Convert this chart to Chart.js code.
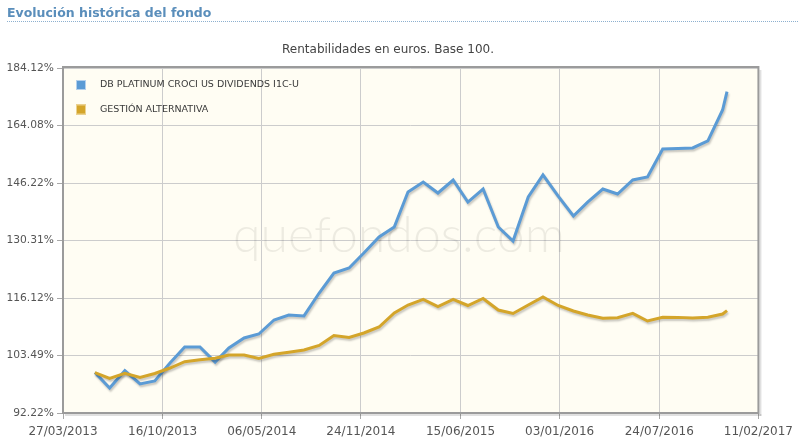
<!DOCTYPE html>
<html><head><meta charset="utf-8">
<script src="https://cdn.jsdelivr.net/npm/chart.js@4"></script>
<style>
html,body{margin:0;padding:0;background:#fff;}
#wrap{position:relative;width:799px;height:445px;overflow:hidden;}
canvas{display:block;}
</style></head><body>
<div id="wrap"><canvas id="cv" width="799" height="445"></canvas></div>
<script>
const HEADER = 'Evolución histórica del fondo';
const TITLE = 'Rentabilidades en euros. Base 100.';
const WATERMARK = 'quefondos.com';
const SERIES_NAMES = ['DB PLATINUM CROCI US DIVIDENDS I1C-U', 'GESTIÓN ALTERNATIVA'];
const X_LABELS = ['27/03/2013','16/10/2013','06/05/2014','24/11/2014','15/06/2015','03/01/2016','24/07/2016','11/02/2017'];
const Y_TICKS = [92.22, 103.49, 116.12, 130.31, 146.22, 164.08, 184.12];
const DATES = [
 '31/05/2013','30/06/2013','31/07/2013','31/08/2013','30/09/2013','31/10/2013','30/11/2013','31/12/2013',
 '31/01/2014','28/02/2014','31/03/2014','30/04/2014','31/05/2014','30/06/2014','31/07/2014','31/08/2014','30/09/2014','31/10/2014','30/11/2014','31/12/2014',
 '31/01/2015','28/02/2015','31/03/2015','30/04/2015','31/05/2015','30/06/2015','31/07/2015','31/08/2015','30/09/2015','31/10/2015','30/11/2015','31/12/2015',
 '31/01/2016','29/02/2016','31/03/2016','30/04/2016','31/05/2016','30/06/2016','31/07/2016','31/08/2016','30/09/2016','31/10/2016','30/11/2016','09/12/2016'
];
const FUND = [100.00, 96.96, 100.38, 97.74, 98.33, 101.94, 105.26, 105.26, 102.14, 105.05, 107.18, 108.04, 111.12, 112.24, 112.02, 117.29, 122.09, 123.32, 127.08, 131.22, 133.88, 143.60, 146.51, 143.32, 147.10, 140.74, 144.47, 133.88, 130.17, 142.17, 148.59, 142.40, 136.87, 140.74, 144.47, 143.03, 147.10, 147.99, 156.55, 156.70, 156.86, 159.07, 169.26, 175.60];
const CATEGORY = [100.00, 98.86, 99.86, 99.02, 99.82, 100.92, 102.21, 102.62, 102.90, 103.59, 103.59, 102.86, 103.73, 104.15, 104.63, 105.58, 107.71, 107.28, 108.26, 109.57, 112.68, 114.50, 115.82, 114.16, 115.82, 114.39, 116.01, 113.36, 112.57, 114.50, 116.36, 114.39, 113.14, 112.24, 111.50, 111.64, 112.61, 110.90, 111.73, 111.70, 111.56, 111.73, 112.45, 113.21];
const COLORS = ['#5b9bd5', '#d4a52a'];
const LEGEND_BORDER = ['#b4d0ec', '#ecd28f'];

function dayOf(s){ const [d,m,y]=s.split('/').map(Number); return Date.UTC(y,m-1,d)/86400000; }
const D0 = dayOf(X_LABELS[0]);
const X_TICK_DAYS = X_LABELS.map(l => dayOf(l) - D0);
const pts = arr => DATES.map((d,i) => ({x: dayOf(d) - D0, y: arr[i]}));

const deco = {
  id: 'deco',
  beforeDraw(c){
    const {ctx, chartArea:a} = c;
    ctx.save();
    ctx.fillStyle = '#fff'; ctx.fillRect(0,0,c.width,c.height);
    ctx.font = 'bold 12.5px "DejaVu Sans"'; ctx.fillStyle = '#5a8ebb';
    ctx.textAlign = 'left'; ctx.textBaseline = 'alphabetic';
    ctx.fillText(HEADER, 7, 17);
    ctx.fillStyle = '#8db0cf';
    for (let x = 7; x < c.width; x += 2) ctx.fillRect(x, 21, 1, 1);
    ctx.font = '12px "DejaVu Sans"'; ctx.fillStyle = '#444';
    ctx.textAlign = 'center'; ctx.textBaseline = 'middle';
    ctx.fillText(TITLE, 388, 50);
    ctx.fillStyle = '#fffdf3';
    ctx.fillRect(a.left, a.top, a.right-a.left, a.bottom-a.top);
    ctx.restore();
  },
  beforeDatasetsDraw(c){
    const {ctx, chartArea:a} = c;
    ctx.save();
    ctx.font = '300 50px Lato'; ctx.fillStyle = 'rgba(0,0,0,0.07)';
    ctx.textAlign = 'center'; ctx.textBaseline = 'middle';
    ctx.fillText(WATERMARK, 399, 236);
    ctx.fillStyle = 'rgba(0,0,0,0.12)';
    ctx.fillRect(a.right+1, a.top+2, 2, a.bottom-a.top+1);
    ctx.fillRect(a.left+2, a.bottom+1, a.right-a.left+1, 2);
    ctx.strokeStyle = '#9b9b9b'; ctx.lineWidth = 2;
    ctx.strokeRect(a.left, a.top-1, a.right-a.left, a.bottom-a.top+1);
    ctx.restore();
  },
  beforeDatasetDraw(c){
    const ctx = c.ctx; ctx.save();
    ctx.shadowColor = 'rgba(0,0,0,0.22)'; ctx.shadowOffsetX = 1; ctx.shadowOffsetY = 2; ctx.shadowBlur = 2;
  },
  afterDatasetDraw(c){ c.ctx.restore(); },
  afterDraw(c){
    const {ctx} = c;
    ctx.save();
    ctx.font = '9.5px "DejaVu Sans"'; ctx.textAlign = 'left'; ctx.textBaseline = 'middle';
    c.data.datasets.forEach((ds, i) => {
      const y = 80 + i*24.5;
      ctx.fillStyle = ds.borderColor; ctx.fillRect(76, y, 10, 10);
      ctx.strokeStyle = LEGEND_BORDER[i]; ctx.lineWidth = 1; ctx.strokeRect(76.5, y+0.5, 9, 9);
      ctx.fillStyle = '#3a3a3a'; ctx.fillText(ds.label, 100, y+5);
    });
    ctx.restore();
  }
};

new Chart(document.getElementById('cv'), {
  type: 'line',
  data: { datasets: [
    { label: SERIES_NAMES[0], data: pts(FUND), borderColor: COLORS[0], backgroundColor: COLORS[0], borderWidth: 3, pointRadius: 0, tension: 0, order: 1 },
    { label: SERIES_NAMES[1], data: pts(CATEGORY), borderColor: COLORS[1], backgroundColor: COLORS[1], borderWidth: 3, pointRadius: 0, tension: 0, order: 0 }
  ]},
  options: {
    responsive: false, animation: false, devicePixelRatio: 1,
    layout: { padding: { top: 68, right: 37, left: 0, bottom: 0 } },
    plugins: { legend: { display: false }, tooltip: { enabled: false }, title: { display: false } },
    scales: {
      x: {
        type: 'linear', min: X_TICK_DAYS[0], max: X_TICK_DAYS[X_TICK_DAYS.length-1],
        afterBuildTicks: s => { s.ticks = X_TICK_DAYS.map(v => ({value: v})); },
        afterFit: s => { s.height = 32; },
        border: { display: false },
        grid: { color: '#cccccc', tickColor: '#a8a8a8', tickLength: 6, lineWidth: 1 },
        ticks: { autoSkip: false, maxRotation: 0, padding: 6, color: '#555', font: { family: 'DejaVu Sans', size: 12 },
                 callback: (v, i) => X_LABELS[i] }
      },
      y: {
        type: 'logarithmic', min: Y_TICKS[0], max: Y_TICKS[Y_TICKS.length-1],
        afterBuildTicks: s => { s.ticks = Y_TICKS.map(v => ({value: v})); },
        afterFit: s => { s.width = 63; },
        border: { display: false },
        grid: { color: '#cccccc', tickColor: '#a8a8a8', tickLength: 6, lineWidth: 1 },
        ticks: { padding: 3, color: '#555', font: { family: 'DejaVu Sans', size: 10.7 },
                 callback: v => v.toFixed(2) + '%' }
      }
    }
  },
  plugins: [deco]
});
</script>
</body></html>
